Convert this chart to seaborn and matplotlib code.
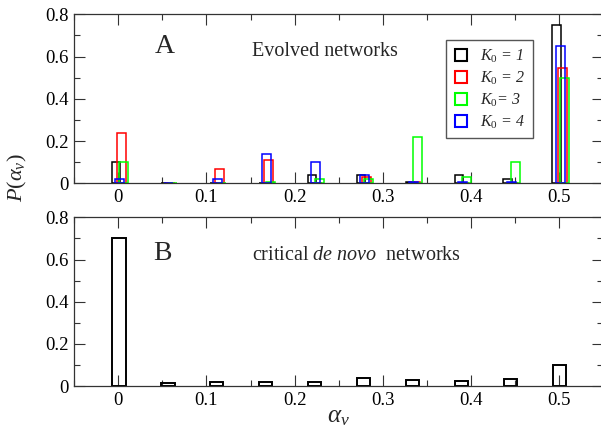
import numpy as np
import pandas as pd
import matplotlib
matplotlib.use("Agg")
import matplotlib.pyplot as plt
import seaborn as sns
from matplotlib.lines import Line2D
from matplotlib.ticker import MultipleLocator

# values of alpha_v (bin positions)
alpha = [0.0, 0.0556, 0.1111, 0.1667, 0.2222, 0.2778, 0.3333, 0.3889, 0.4444, 0.5]

# panel A: evolved networks, one series per K0
p_k1 = [0.10, 0.0, 0.002, 0.002, 0.04, 0.04, 0.008, 0.04, 0.02, 0.75]
p_k2 = [0.24, 0.0, 0.07, 0.11, 0.0, 0.03, 0.005, 0.0, 0.0, 0.545]
p_k3 = [0.10, 0.003, 0.003, 0.008, 0.02, 0.02, 0.22, 0.03, 0.10, 0.50]
p_k4 = [0.02, 0.003, 0.02, 0.14, 0.10, 0.04, 0.008, 0.008, 0.008, 0.65]

# panel B: critical de novo networks
p_denovo = [0.70, 0.016, 0.021, 0.019, 0.021, 0.036, 0.027, 0.023, 0.034, 0.10]

series = [
    (p_k1, "black", -0.0026, r"$\mathit{K_0}$ = 1"),
    (p_k2, "red", 0.0038, r"$\mathit{K_0}$ = 2"),
    (p_k3, "#00ff00", 0.0060, r"$\mathit{K_0}$= 3"),
    (p_k4, "blue", 0.0016, r"$\mathit{K_0}$ = 4"),
]

sns.set_style("ticks")
plt.rcParams['font.family'] = ['Liberation Serif', 'DejaVu Serif']
plt.rcParams['mathtext.fontset'] = 'custom'
plt.rcParams['mathtext.rm'] = 'Liberation Serif'
plt.rcParams['mathtext.it'] = 'Liberation Serif:italic'
plt.rcParams['mathtext.bf'] = 'Liberation Serif:bold'

fig = plt.figure(figsize=(6.01, 4.29), dpi=100)
ax1 = fig.add_axes([0.1235, 0.5727, 0.880, 0.394])
ax2 = fig.add_axes([0.1235, 0.1002, 0.880, 0.393])

spacing = 0.055
for vals, col, off, lab in series:
    df = pd.DataFrame({"x": np.array(alpha) + off, "p": vals})
    sns.barplot(data=df, x="x", y="p", native_scale=True, fill=False,
                color=col, width=0.00965 / spacing, linewidth=1.1,
                errorbar=None, orient="x", ax=ax1)

df_b = pd.DataFrame({"x": np.array(alpha) + 0.0006, "p": p_denovo})
sns.barplot(data=df_b, x="x", y="p", native_scale=True, fill=False,
            color="black", width=0.0151 / spacing, linewidth=1.4,
            errorbar=None, orient="x", ax=ax2)

for ax in (ax1, ax2):
    ax.set_xlim(-0.05, 0.55)
    ax.set_ylim(0, 0.8)
    ax.set_xlabel("")
    ax.set_ylabel("")
    ax.set_xticks([0, 0.1, 0.2, 0.3, 0.4, 0.5])
    ax.set_xticklabels(["0", "0.1", "0.2", "0.3", "0.4", "0.5"])
    ax.set_yticks([0, 0.2, 0.4, 0.6, 0.8])
    ax.set_yticklabels(["0", "0.2", "0.4", "0.6", "0.8"])
    ax.xaxis.set_minor_locator(MultipleLocator(0.05))
    ax.yaxis.set_minor_locator(MultipleLocator(0.1))
    ax.tick_params(which="both", direction="in", top=True, right=True,
                   width=0.8, colors="#333333", labelcolor="black",
                   labelsize=13.5)
    ax.tick_params(which="major", length=8, pad=4)
    ax.tick_params(which="minor", length=4.3)
    for sp in ax.spines.values():
        sp.set_linewidth(0.9)
        sp.set_color("#333333")

ax1.text(0.172, 0.773, "A", transform=ax1.transAxes, fontsize=20,
         ha="center", va="baseline")
ax1.text(0.336, 0.753, "Evolved networks", transform=ax1.transAxes,
         fontsize=14.5, ha="left", va="baseline")
ax2.text(0.166, 0.747, "B", transform=ax2.transAxes, fontsize=20,
         ha="center", va="baseline")
ax2.text(0.336, 0.747, r"critical $\mathit{de\ novo}$  networks",
         transform=ax2.transAxes, fontsize=14.5, ha="left", va="baseline")

handles = [Line2D([], [], marker="s", linestyle="none", markerfacecolor="none",
                  markeredgecolor=col, markersize=9, markeredgewidth=1.5)
           for _, col, _, _ in series]
labels = [lab for _, _, _, lab in series]
leg = ax1.legend(handles, labels, loc="upper left", bbox_to_anchor=(0.703, 0.848),
                 borderaxespad=0, fancybox=False, framealpha=1,
                 edgecolor="#555555", handlelength=1.0, handletextpad=0.7,
                 labelspacing=0.3, borderpad=0.45,
                 prop={"family": "Liberation Serif", "style": "italic", "size": 11.5})
leg.get_frame().set_linewidth(1.0)

ax2.set_xlabel(r"$\alpha_v$", fontsize=18, labelpad=-2)
fig.text(17.5 / 601, 1 - 178 / 429, r"$P(\alpha_v)$", rotation=90,
         fontsize=16, ha="center", va="center")

fig.savefig("out.png", dpi=100)
